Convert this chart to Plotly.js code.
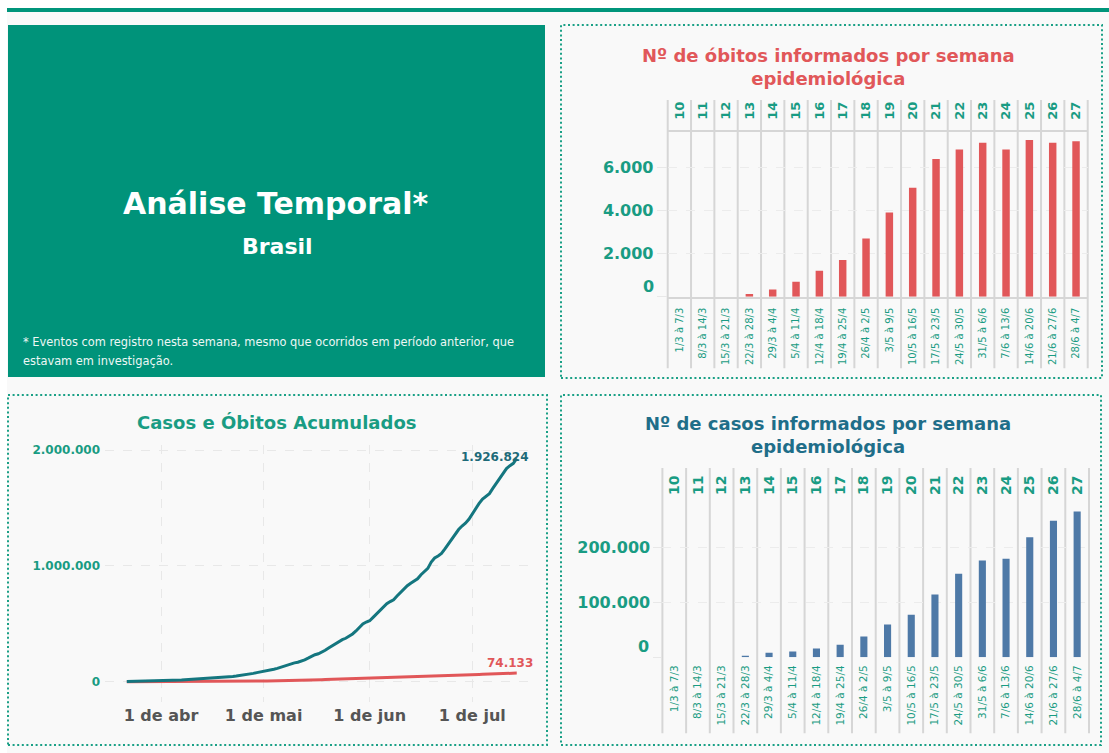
<!DOCTYPE html>
<html>
<head>
<meta charset="utf-8">
<script src="https://cdn.plot.ly/plotly-3.0.1.min.js"></script>
<style>
html,body{margin:0;padding:0;background:#ffffff;}
#chart{width:1109px;height:753px;}
</style>
</head>
<body>
<div id="chart"></div>
<script>
// ---------- DATA ----------
const weeks = ['10','11','12','13','14','15','16','17','18','19','20','21','22','23','24','25','26','27'];
const weekRanges = ['1/3 à 7/3','8/3 à 14/3','15/3 à 21/3','22/3 à 28/3','29/3 à 4/4','5/4 à 11/4','12/4 à 18/4','19/4 à 25/4','26/4 à 2/5','3/5 à 9/5','10/5 à 16/5','17/5 à 23/5','24/5 à 30/5','31/5 à 6/6','7/6 à 13/6','14/6 à 20/6','21/6 à 27/6','28/6 à 4/7'];
const obitosSemana = [0,0,0,130,340,700,1210,1705,2710,3920,5070,6400,6850,7160,6850,7285,7160,7225];
const casosSemana = [0,0,0,2800,7900,10300,15800,22500,37600,59500,77100,114200,151800,176100,179100,218600,248300,265300];

const firstDay = '2020-03-22';
const casosAcum = [
  1546,1924,2201,2433,2915,3417,3904,4256,4579,5717,
  6836,7910,9056,10278,11130,12056,13717,15927,17857,19638,20727,22169,23430,25262,28320,30425,33682,36599,38654,40581,43079,45757,49492,52995,58509,61888,66501,71886,78162,85380,
  91589,96559,101147,107780,114715,125218,135106,145328,155939,162699,168331,177589,188974,202918,218223,233142,241080,254220,271628,291579,310087,330890,347398,363211,374898,391222,411821,438238,465166,498440,514849,
  526447,555383,584016,614941,645771,672846,691758,707412,739503,772416,802828,828810,850514,867624,888271,923189,955377,978142,1032913,1067579,1085038,1106470,1145906,1188631,1228114,1274974,1313667,1344143,1368195,1402041,
  1448753,1496858,1539081,1577004,1603055,1623284,1668589,1713160,1755779,1800827,1839850,1864681,1884967,1926824
];
const obitosAcum = [
  25,34,46,57,77,92,111,136,159,201,
  240,299,359,432,486,553,667,800,941,1056,1124,1223,1328,1532,1736,1924,2141,2347,2462,2575,2741,2906,3313,3670,4016,4205,4543,5017,5466,5901,
  6329,6750,7025,7321,7921,8536,9146,9897,10627,11123,11519,12400,13149,13993,14817,15633,16118,16853,17971,18859,20047,21048,22013,22666,23473,24512,25598,26754,27878,28834,29314,
  29937,31199,32548,34021,35026,35930,36455,37134,38406,39680,40919,41828,42720,43332,43959,45241,46510,47748,48954,49976,50617,51271,52645,53830,54971,55961,57070,57622,58314,59594,
  60632,61884,63174,64265,64867,65487,66741,67964,69184,70398,71469,72100,72833,74133
];

const monthTickVals = ['2020-04-01','2020-05-01','2020-06-01','2020-07-01'];
const monthTickText = ['1 de abr','1 de mai','1 de jun','1 de jul'];
const acumTickVals = [0, 1000000, 2000000];
const acumTickText = ['0','1.000.000','2.000.000'];
const obitosTickVals = [0, 2000, 4000, 6000];
const obitosTickText = ['', '2.000', '4.000', '6.000'];
const casosTickVals = [0, 100000, 200000];
const casosTickText = ['', '100.000', '200.000'];

const mainTitle = 'Análise Temporal*';
const subTitle = 'Brasil';
const noteLine1 = '* Eventos com registro nesta semana, mesmo que ocorridos em período anterior, que';
const noteLine2 = 'estavam em investigação.';
const titleObitos = 'Nº de óbitos informados por semana<br>epidemiológica';
const titleCasos = 'Nº de casos informados por semana<br>epidemiológica';
const titleAcum = 'Casos e Óbitos Acumulados';

// ---------- HELPERS ----------
const W = 1109, H = 753;
const px = v => v / W;
const py = v => 1 - v / H;
const FONT = 'DejaVu Sans, Verdana, sans-serif';
const TEAL = '#199c83';
const RED = '#e15759';
const BLUE = '#4e79a7';
const CASE_LINE = '#14767f';
const GRID = '#e8e8e8';
const SEP = '#d6d6d6';

function fmt(v){ return String(v).replace(/\B(?=(\d{3})+(?!\d))/g, '.'); }

const dates = casosAcum.map((_, i) => {
  const d = new Date(firstDay + 'T00:00:00Z');
  d.setUTCDate(d.getUTCDate() + i);
  return d.toISOString().slice(0,10);
});
const idx = weeks.map((_, i) => i);
const empty = weeks.map(() => null);

// ---------- TRACES ----------
const traces = [
  {type:'scatter', mode:'lines', x: dates, y: obitosAcum, xaxis:'x', yaxis:'y',
   line:{color:RED, width:3}, hoverinfo:'skip'},
  {type:'scatter', mode:'lines', x: dates, y: casosAcum, xaxis:'x', yaxis:'y',
   line:{color:CASE_LINE, width:3}, hoverinfo:'skip'},
  {type:'bar', x: weekRanges, y: obitosSemana, xaxis:'x2', yaxis:'y2',
   marker:{color:RED}, width:0.32, hoverinfo:'skip'},
  {type:'bar', x: weekRanges, y: casosSemana, xaxis:'x4', yaxis:'y4',
   marker:{color:BLUE}, width:0.3, hoverinfo:'skip'},
  // carriers for the week-number axes on top (no visible marks)
  {type:'scatter', mode:'markers', x: idx, y: empty, xaxis:'x3', yaxis:'y2',
   marker:{opacity:0}, hoverinfo:'skip'},
  {type:'scatter', mode:'markers', x: idx, y: empty, xaxis:'x5', yaxis:'y4',
   marker:{opacity:0}, hoverinfo:'skip'}
];

// ---------- SHAPES ----------
const shapes = [
  {type:'rect', xref:'paper', yref:'paper', x0:px(7), x1:1, y0:0, y1:py(12),
   fillcolor:'#f9f9f9', line:{width:0}, layer:'below'},
  {type:'rect', xref:'paper', yref:'paper', x0:px(7), x1:1, y0:py(12), y1:py(8),
   fillcolor:'#00957b', line:{width:0}, layer:'below'},
  {type:'rect', xref:'paper', yref:'paper', x0:px(8), x1:px(545), y0:py(377), y1:py(25),
   fillcolor:'#00937a', line:{width:0}, layer:'below'}
];
const borders = [[561,1102,25,378],[8,547,395,745],[561,1101,395,745]];
borders.forEach(b => shapes.push({type:'rect', xref:'paper', yref:'paper',
  x0:px(b[0]), x1:px(b[1]), y0:py(b[3]), y1:py(b[2]),
  fillcolor:'rgba(0,0,0,0)', line:{color:'#1aa086', width:2, dash:'2px,2.6px'}, layer:'above'}));

for (let i = 0; i <= weeks.length; i++) {
  shapes.push({type:'line', xref:'x2 domain', yref:'paper', x0:i/weeks.length, x1:i/weeks.length,
    y0:py(368.3), y1:py(100), line:{color:SEP, width:2}, layer:'below'});
  shapes.push({type:'line', xref:'x4 domain', yref:'paper', x0:i/weeks.length, x1:i/weeks.length,
    y0:py(733.3), y1:py(468), line:{color:SEP, width:2}, layer:'below'});
}

// ---------- ANNOTATIONS ----------
const annotations = [
  {xref:'paper', yref:'paper', x:px(276), y:py(203), text:mainTitle, showarrow:false,
   xanchor:'center', yanchor:'middle', font:{family:FONT, size:30, color:'#ffffff', weight:'bold'}},
  {xref:'paper', yref:'paper', x:px(277.5), y:py(247), text:subTitle, showarrow:false,
   xanchor:'center', yanchor:'middle', font:{family:FONT, size:22, color:'#ffffff', weight:'bold'}},
  {xref:'paper', yref:'paper', x:px(21), y:py(342), text:noteLine1, showarrow:false,
   xanchor:'left', yanchor:'middle', font:{family:FONT, size:11.4, color:'#eef7f5'}},
  {xref:'paper', yref:'paper', x:px(21), y:py(361), text:noteLine2, showarrow:false,
   xanchor:'left', yanchor:'middle', font:{family:FONT, size:11.4, color:'#eef7f5'}},
  {xref:'paper', yref:'paper', x:px(828.8), y:py(66.5), text:titleObitos, showarrow:false,
   xanchor:'center', yanchor:'middle', font:{family:FONT, size:18, color:RED, weight:'bold'}},
  {xref:'paper', yref:'paper', x:px(828), y:py(435), text:titleCasos, showarrow:false,
   xanchor:'center', yanchor:'middle', font:{family:FONT, size:18, color:'#1f6e89', weight:'bold'}},
  {xref:'paper', yref:'paper', x:px(276.6), y:py(422.3), text:titleAcum, showarrow:false,
   xanchor:'center', yanchor:'middle', font:{family:FONT, size:18, color:TEAL, weight:'bold'}},
  {xref:'paper', yref:'y2', x:px(656), y:0, yshift:10.7, text:'0', showarrow:false,
   xanchor:'right', yanchor:'middle', font:{family:FONT, size:16, color:TEAL, weight:'bold'}},
  {xref:'paper', yref:'y4', x:px(651), y:0, yshift:10.5, text:'0', showarrow:false,
   xanchor:'right', yanchor:'middle', font:{family:FONT, size:16, color:TEAL, weight:'bold'}},
  {xref:'x', yref:'y', x:dates[dates.length-1], y:casosAcum[casosAcum.length-1],
   text:fmt(casosAcum[casosAcum.length-1]), showarrow:false, xanchor:'center', yanchor:'middle',
   xshift:-21.8, yshift:1.8, font:{family:FONT, size:12, color:'#1d6a78', weight:'bold'}},
  {xref:'x', yref:'y', x:dates[dates.length-1], y:obitosAcum[obitosAcum.length-1],
   text:fmt(obitosAcum[obitosAcum.length-1]), showarrow:false, xanchor:'center', yanchor:'middle',
   xshift:-7.2, yshift:10.4, font:{family:FONT, size:12, color:RED, weight:'bold'}}
];

// ---------- LAYOUT ----------
const layout = {
  width: W, height: H,
  margin:{l:0, r:0, t:0, b:0, pad:0},
  paper_bgcolor:'#ffffff',
  plot_bgcolor:'rgba(0,0,0,0)',
  showlegend:false,
  font:{family:FONT},
  xaxis:{domain:[px(105), px(535)], anchor:'y', type:'date',
    range:['2020-03-15 15:00','2020-07-19 08:00'],
    tickvals:monthTickVals, ticktext:monthTickText, tickangle:0,
    tickfont:{family:FONT, size:16, color:'#555555', weight:'bold'},
    showgrid:true, gridcolor:GRID, griddash:'dash', gridwidth:1,
    zeroline:false, showline:false, ticks:'', ticklabelstandoff:2},
  yaxis:{domain:[py(701.7), py(445)], anchor:'x', range:[-172600, 2043200],
    tickvals:acumTickVals, ticktext:acumTickText,
    tickfont:{family:FONT, size:12, color:TEAL, weight:'bold'},
    showgrid:true, gridcolor:GRID, griddash:'dash', gridwidth:1,
    zeroline:false, showline:false, ticks:'', ticklabelstandoff:4},
  xaxis2:{domain:[px(667.7), px(1087.7)], anchor:'y2', type:'category',
    range:[-0.5, weeks.length-0.5], tickangle:-90,
    tickfont:{family:FONT, size:10, color:TEAL},
    showgrid:false, zeroline:false, showline:true, linecolor:SEP, linewidth:2, ticks:'',
    ticklabelstandoff:5},
  xaxis3:{overlaying:'x2', anchor:'y2', side:'top', type:'linear',
    range:[-0.5, weeks.length-0.5], tickvals:idx, ticktext:weeks, tickangle:-90,
    tickfont:{family:FONT, size:13, color:TEAL, weight:'bold'},
    showgrid:false, zeroline:false, showline:true, linecolor:SEP, linewidth:2, ticks:'',
    ticklabelstandoff:8},
  yaxis2:{domain:[py(296.7), py(132.3)], anchor:'x2', range:[0, 7647],
    tickvals:obitosTickVals, ticktext:obitosTickText,
    tickfont:{family:FONT, size:16, color:TEAL, weight:'bold'},
    ticks:'outside', ticklen:10, tickcolor:GRID, tickwidth:1,
    showgrid:true, gridcolor:'#ececec', griddash:'dash', zeroline:false, showline:false},
  xaxis4:{domain:[px(662.4), px(1089)], anchor:'y4', type:'category',
    range:[-0.5, weeks.length-0.5], tickangle:-90,
    tickfont:{family:FONT, size:10.5, color:TEAL},
    showgrid:false, zeroline:false, showline:false, ticks:'', ticklabelstandoff:5},
  xaxis5:{overlaying:'x4', anchor:'y4', side:'top', type:'linear',
    range:[-0.5, weeks.length-0.5], tickvals:idx, ticktext:weeks, tickangle:-90,
    tickfont:{family:FONT, size:14, color:TEAL, weight:'bold'},
    showgrid:false, zeroline:false, showline:false, ticks:'', ticklabelstandoff:9},
  yaxis4:{domain:[py(657.2), py(505)], anchor:'x4', range:[0, 277200],
    tickvals:casosTickVals, ticktext:casosTickText,
    tickfont:{family:FONT, size:16, color:TEAL, weight:'bold'},
    ticks:'outside', ticklen:8, tickcolor:GRID, tickwidth:1,
    showgrid:true, gridcolor:'#ececec', griddash:'dash', zeroline:false, showline:false},
  shapes: shapes,
  annotations: annotations
};

Plotly.newPlot('chart', traces, layout, {staticPlot:true, displayModeBar:false});
</script>
</body>
</html>
